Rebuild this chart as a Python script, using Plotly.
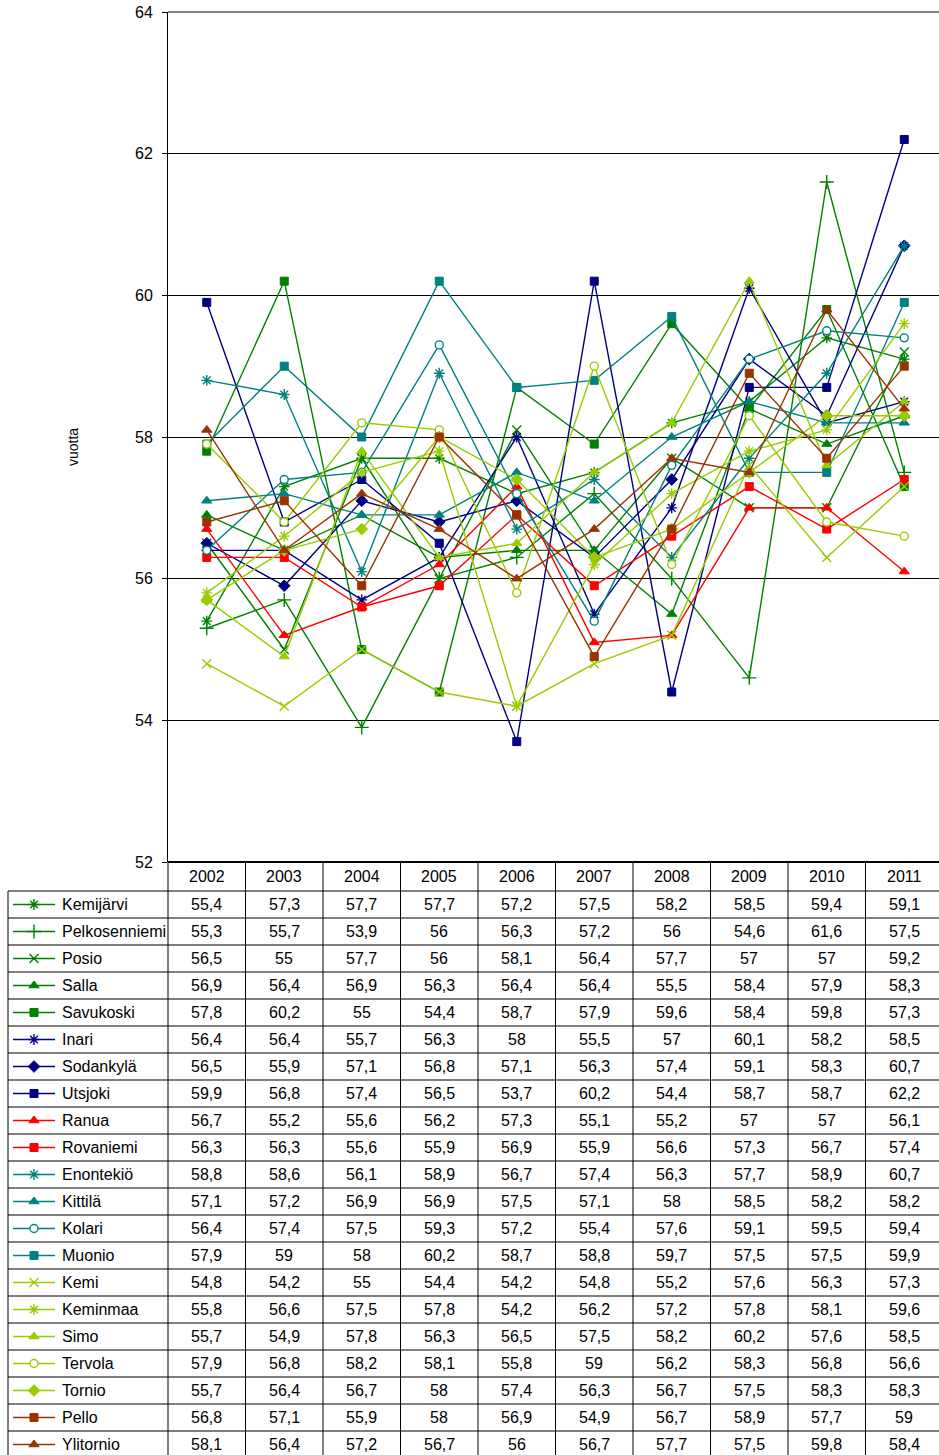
import plotly.graph_objects as go

# ---------------- data ----------------
years = ["2002", "2003", "2004", "2005", "2006", "2007", "2008", "2009", "2010", "2011"]

names = ["Kemijärvi", "Pelkosenniemi", "Posio", "Salla", "Savukoski", "Inari",
         "Sodankylä", "Utsjoki", "Ranua", "Rovaniemi", "Enontekiö", "Kittilä",
         "Kolari", "Muonio", "Kemi", "Keminmaa", "Simo", "Tervola", "Tornio",
         "Pello", "Ylitornio"]

kemijarvi     = [55.4, 57.3, 57.7, 57.7, 57.2, 57.5, 58.2, 58.5, 59.4, 59.1]
pelkosenniemi = [55.3, 55.7, 53.9, 56.0, 56.3, 57.2, 56.0, 54.6, 61.6, 57.5]
posio         = [56.5, 55.0, 57.7, 56.0, 58.1, 56.4, 57.7, 57.0, 57.0, 59.2]
salla         = [56.9, 56.4, 56.9, 56.3, 56.4, 56.4, 55.5, 58.4, 57.9, 58.3]
savukoski     = [57.8, 60.2, 55.0, 54.4, 58.7, 57.9, 59.6, 58.4, 59.8, 57.3]
inari         = [56.4, 56.4, 55.7, 56.3, 58.0, 55.5, 57.0, 60.1, 58.2, 58.5]
sodankyla     = [56.5, 55.9, 57.1, 56.8, 57.1, 56.3, 57.4, 59.1, 58.3, 60.7]
utsjoki       = [59.9, 56.8, 57.4, 56.5, 53.7, 60.2, 54.4, 58.7, 58.7, 62.2]
ranua         = [56.7, 55.2, 55.6, 56.2, 57.3, 55.1, 55.2, 57.0, 57.0, 56.1]
rovaniemi     = [56.3, 56.3, 55.6, 55.9, 56.9, 55.9, 56.6, 57.3, 56.7, 57.4]
enontekio     = [58.8, 58.6, 56.1, 58.9, 56.7, 57.4, 56.3, 57.7, 58.9, 60.7]
kittila       = [57.1, 57.2, 56.9, 56.9, 57.5, 57.1, 58.0, 58.5, 58.2, 58.2]
kolari        = [56.4, 57.4, 57.5, 59.3, 57.2, 55.4, 57.6, 59.1, 59.5, 59.4]
muonio        = [57.9, 59.0, 58.0, 60.2, 58.7, 58.8, 59.7, 57.5, 57.5, 59.9]
kemi          = [54.8, 54.2, 55.0, 54.4, 54.2, 54.8, 55.2, 57.6, 56.3, 57.3]
keminmaa      = [55.8, 56.6, 57.5, 57.8, 54.2, 56.2, 57.2, 57.8, 58.1, 59.6]
simo          = [55.7, 54.9, 57.8, 56.3, 56.5, 57.5, 58.2, 60.2, 57.6, 58.5]
tervola       = [57.9, 56.8, 58.2, 58.1, 55.8, 59.0, 56.2, 58.3, 56.8, 56.6]
tornio        = [55.7, 56.4, 56.7, 58.0, 57.4, 56.3, 56.7, 57.5, 58.3, 58.3]
pello         = [56.8, 57.1, 55.9, 58.0, 56.9, 54.9, 56.7, 58.9, 57.7, 59.0]
ylitornio     = [58.1, 56.4, 57.2, 56.7, 56.0, 56.7, 57.7, 57.5, 59.8, 58.4]

series = [kemijarvi, pelkosenniemi, posio, salla, savukoski, inari, sodankyla,
          utsjoki, ranua, rovaniemi, enontekio, kittila, kolari, muonio, kemi,
          keminmaa, simo, tervola, tornio, pello, ylitornio]

y_title = "vuotta"

# ---------------- styles ----------------
GREEN, NAVY, RED, TEAL, LIME, BROWN = "#008000", "#000080", "#FF0000", "#008080", "#99CC00", "#993300"
styles = [
    (GREEN, "asterisk-open", 9, False), (GREEN, "cross-thin-open", 10, False),
    (GREEN, "x-thin-open", 9, False), (GREEN, "triangle-up", 9, False),
    (GREEN, "square", 8, False), (NAVY, "asterisk-open", 9, False),
    (NAVY, "diamond", 9, False), (NAVY, "square", 8, False),
    (RED, "triangle-up", 9, False), (RED, "square", 8, False),
    (TEAL, "asterisk-open", 9, False), (TEAL, "triangle-up", 9, False),
    (TEAL, "circle", 8, True), (TEAL, "square", 8, False),
    (LIME, "x-thin-open", 9, False), (LIME, "asterisk-open", 9, False),
    (LIME, "triangle-up", 9, False), (LIME, "circle", 8, True),
    (LIME, "diamond", 9, False), (BROWN, "square", 8, False),
    (BROWN, "triangle-up", 9, False),
]

W, H = 939, 1455
PLOT_L, PLOT_T, PLOT_B = 168, 12, 862
TABLE_L = 8
HEAD_B = 891
ROW_H = 27.0
FONT = "Arial, Liberation Sans, sans-serif"


def py(p):  # pixel y -> paper y
    return 1 - p / H


def px(p):  # pixel x -> paper x
    return p / W


def fmt(v):
    return f"{v:g}".replace(".", ",")


def marker_for(color, sym, size, hollow):
    line_only = sym.endswith("-open") and not sym.startswith("circle")
    return dict(
        symbol=sym, size=size,
        color="white" if hollow else color,
        line=dict(color=color, width=1.4 if (hollow or line_only) else 1),
    )


fig = go.Figure()
xs = list(range(len(years)))

for name, vals, (color, sym, size, hollow) in zip(names, series, styles):
    fig.add_trace(go.Scatter(
        x=xs, y=vals, mode="lines+markers", name=name,
        line=dict(color=color, width=1.4),
        marker=marker_for(color, sym, size, hollow),
        cliponaxis=False, showlegend=False,
        xaxis="x", yaxis="y",
    ))

# legend keys in the table (pixel axes)
for k, (name, (color, sym, size, hollow)) in enumerate(zip(names, styles)):
    yc = HEAD_B + ROW_H * k + ROW_H / 2
    m = marker_for(color, sym, size, hollow)
    m["opacity"] = [0, 1, 0]
    fig.add_trace(go.Scatter(
        x=[13, 34, 55], y=[yc, yc, yc], mode="lines+markers",
        line=dict(color=color, width=1.3), marker=m,
        showlegend=False, hoverinfo="skip", xaxis="x2", yaxis="y2",
        cliponaxis=False,
    ))

shapes = []
annotations = []

# table horizontal lines
for k in range(len(names) + 1):
    yy = HEAD_B + ROW_H * k
    shapes.append(dict(type="line", xref="paper", yref="paper",
                       x0=px(TABLE_L), x1=1, y0=py(yy), y1=py(yy),
                       line=dict(color="black", width=1)))
# left border of table
shapes.append(dict(type="line", xref="paper", yref="paper",
                   x0=px(TABLE_L), x1=px(TABLE_L), y0=py(HEAD_B), y1=0,
                   line=dict(color="black", width=1)))
# vertical axis line extended through table
shapes.append(dict(type="line", xref="paper", yref="paper",
                   x0=px(PLOT_L), x1=px(PLOT_L), y0=py(PLOT_B), y1=0,
                   line=dict(color="black", width=1)))
# column separators
for i in range(1, len(years) + 1):
    shapes.append(dict(type="line", xref="x", yref="paper",
                       x0=i - 0.5, x1=i - 0.5, y0=py(PLOT_B), y1=0,
                       line=dict(color="black", width=1)))
# bottom of plot / top of table (thick)
shapes.append(dict(type="line", xref="paper", yref="paper",
                   x0=px(PLOT_L), x1=1, y0=py(PLOT_B), y1=py(PLOT_B),
                   line=dict(color="black", width=2)))
# top gridline
shapes.append(dict(type="line", xref="paper", yref="paper",
                   x0=px(PLOT_L), x1=1, y0=py(PLOT_T), y1=py(PLOT_T),
                   line=dict(color="black", width=1)))

# header years
for i, yr in enumerate(years):
    annotations.append(dict(x=i, y=py((PLOT_B + HEAD_B) / 2), xref="x", yref="paper",
                            text=yr, showarrow=False, xanchor="center", yanchor="middle",
                            font=dict(family=FONT, size=16, color="black")))
# table rows
for k, (name, vals) in enumerate(zip(names, series)):
    yc = py(HEAD_B + ROW_H * k + ROW_H / 2)
    annotations.append(dict(x=px(60), y=yc, xref="paper", yref="paper", text=name,
                            showarrow=False, xanchor="left", yanchor="middle",
                            font=dict(family=FONT, size=16, color="black")))
    for i, v in enumerate(vals):
        annotations.append(dict(x=i, y=yc, xref="x", yref="paper", text=fmt(v),
                                showarrow=False, xanchor="center", yanchor="middle",
                                font=dict(family=FONT, size=16, color="black")))

# y axis title
annotations.append(dict(x=px(73), y=py(447), xref="paper", yref="paper", text=y_title,
                        textangle=-90, showarrow=False, xanchor="center", yanchor="middle",
                        font=dict(family=FONT, size=14, color="black")))

COLW = 77.5
fig.update_layout(
    width=W, height=H,
    autosize=False,
    margin=dict(l=0, r=0, t=0, b=0, pad=0, autoexpand=False),
    paper_bgcolor="white", plot_bgcolor="rgba(0,0,0,0)",
    showlegend=False,
    xaxis=dict(domain=[px(PLOT_L), 1], range=[-0.5, -0.5 + (W - PLOT_L) / COLW],
               showticklabels=False, showgrid=False, zeroline=False, ticks="",
               showline=False, anchor="y", fixedrange=True, automargin=False),
    yaxis=dict(domain=[py(PLOT_B), py(PLOT_T)], range=[52, 64], dtick=2, tick0=52,
               showgrid=True, gridcolor="black", gridwidth=1, zeroline=False,
               showline=True, linecolor="black", linewidth=1,
               ticks="outside", ticklen=5, tickcolor="black", tickwidth=1,
               ticklabelstandoff=6, ticklabeloverflow="allow",
               tickfont=dict(family=FONT, size=16, color="black"),
               anchor="x", fixedrange=True, automargin=False),
    xaxis2=dict(domain=[0, 1], range=[0, W], visible=False, anchor="y2",
                fixedrange=True, automargin=False),
    yaxis2=dict(domain=[0, 1], range=[H, 0], visible=False, anchor="x2",
                fixedrange=True, automargin=False),
    shapes=shapes,
    annotations=annotations,
)

post = (
    "var s=document.createElement('style');"
    "s.innerHTML='html,body{margin:0!important;padding:0!important;overflow:hidden!important;}"
    "body>div{margin:0!important;padding:0!important;line-height:0;}';"
    "document.head.appendChild(s);window.scrollTo(0,0);"
)
fig.write_html("out.html", config={"displayModeBar": False}, post_script=post)
